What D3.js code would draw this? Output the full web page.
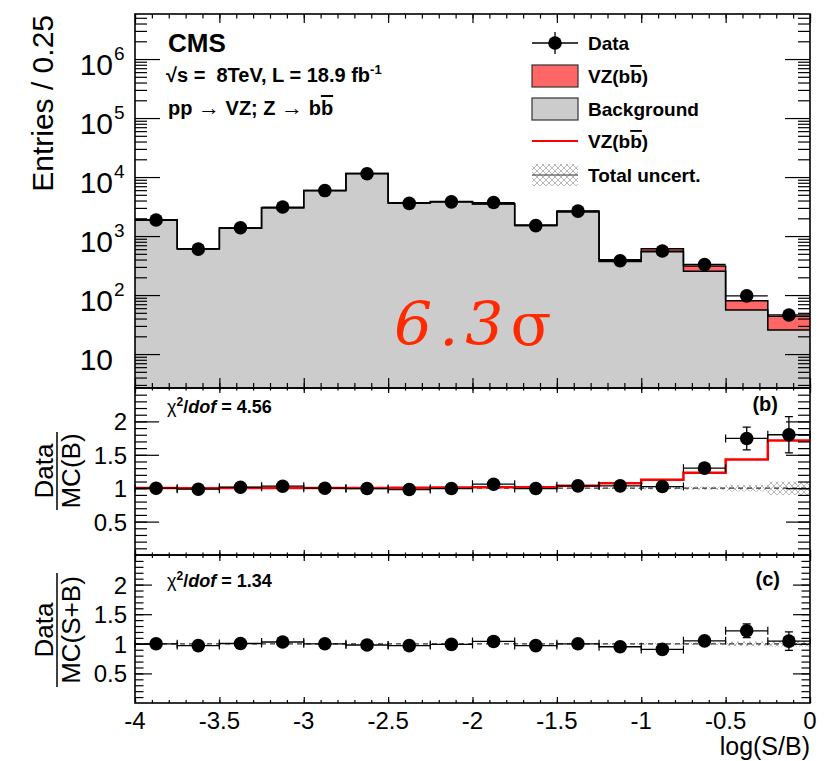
<!DOCTYPE html>
<html lang="en">
<head>
<meta charset="UTF-8">
<title>VZ(bb) log(S/B)</title>
<style>
  body { margin: 0; background: #fff; }
  svg { display: block; font-family: "Liberation Sans", Arial, sans-serif; }
  .tick line { stroke: #000; stroke-width: 1.2; }
  .bold { font-weight: bold; }
  .ob { text-decoration: overline; }
</style>
</head>
<body>
<svg id="chart" width="836" height="761"></svg>
<script src="https://d3js.org/d3.v7.min.js"></script>
<script>
// bin edges of log(S/B)
const binEdges = [-4, -3.75, -3.5, -3.25, -3, -2.75, -2.5, -2.25, -2, -1.75, -1.5, -1.25, -1, -0.75, -0.5, -0.25, 0];

// top panel: entries per bin
const dataCounts = [1870, 600, 1380, 3100, 5900, 11400, 3580, 3800, 3700, 1500, 2650, 382, 557, 330, 97, 46];
const bkgCounts  = [1870, 610, 1360, 3010, 5900, 11450, 3650, 3820, 3490, 1510, 2560, 369, 543, 254, 56, 25.5];
const sigCounts  = [2, 1, 3, 8, 20, 50, 25, 35, 52, 23, 90, 28, 68, 58, 24, 18.2];

// panel (b): Data / MC(B)
const ratioB     = [1.0, 0.985, 1.015, 1.03, 1.0, 0.995, 0.98, 0.995, 1.06, 0.995, 1.035, 1.035, 1.025, 1.30, 1.745, 1.80];
const ratioBErr  = [0.02, 0.03, 0.02, 0.015, 0.012, 0.01, 0.015, 0.015, 0.015, 0.025, 0.02, 0.05, 0.045, 0.07, 0.17, 0.27];
const sigLineB   = [1.002, 1.001, 1.002, 1.003, 1.003, 1.004, 1.007, 1.009, 1.015, 1.015, 1.035, 1.075, 1.125, 1.23, 1.43, 1.715];
const uncB       = [0.006, 0.008, 0.006, 0.005, 0.004, 0.004, 0.005, 0.005, 0.005, 0.007, 0.006, 0.012, 0.02, 0.025, 0.05, 0.1];

// panel (c): Data / MC(S+B)
const ratioSB    = [1.0, 0.97, 1.005, 1.03, 1.0, 0.98, 0.97, 0.99, 1.04, 0.97, 1.0, 0.95, 0.905, 1.05, 1.22, 1.045];
const ratioSBErr = [0.02, 0.03, 0.02, 0.015, 0.012, 0.01, 0.015, 0.015, 0.015, 0.025, 0.02, 0.045, 0.04, 0.05, 0.117, 0.155];
const uncSB      = [0.005, 0.007, 0.005, 0.004, 0.004, 0.004, 0.004, 0.004, 0.004, 0.006, 0.005, 0.01, 0.015, 0.02, 0.04, 0.05];

const xMajor = [-4, -3.5, -3, -2.5, -2, -1.5, -1, -0.5, 0];
const xLabels = ["-4", "-3.5", "-3", "-2.5", "-2", "-1.5", "-1", "-0.5", "0"];
const logMajor = [10, 100, 1e3, 1e4, 1e5, 1e6];
const logExp = ["", "2", "3", "4", "5", "6"];
const ratioMajor = [0.5, 1, 1.5, 2];
const ratioLabels = ["0.5", "1", "1.5", "2"];

const svg = d3.select("#chart");
const L = 135, R = 810;
const topY = [14, 388], midY = [388, 555], botY = [555, 703];

const x = d3.scaleLinear().domain([-4, 0]).range([L, R]);
const yTop = d3.scaleLog().domain([2.66, 5.8e6]).range([topY[1], topY[0]]);
const yB = d3.scaleLinear().domain([0, 2.5]).range([midY[1], midY[0]]);
const yC = d3.scaleLinear().domain([0, 2.5]).range([botY[1], botY[0]]);

const xMinor = d3.range(-40, 1).map(d => d / 10);
const logMinor = [];
[1, 10, 100, 1e3, 1e4, 1e5, 1e6].forEach(p => {
  for (let m = 2; m <= 9; m++) {
    const v = m * p;
    if (v > yTop.domain()[0] && v < yTop.domain()[1]) logMinor.push(v);
  }
});
const ratioMinor = d3.range(1, 25).map(d => d / 10);

const bins = dataCounts.map((d, i) => ({
  lo: binEdges[i], hi: binEdges[i + 1], c: (binEdges[i] + binEdges[i + 1]) / 2,
  data: d, bkg: bkgCounts[i], sig: sigCounts[i],
  rB: ratioB[i], rBe: ratioBErr[i], sB: sigLineB[i], uB: uncB[i],
  rSB: ratioSB[i], rSBe: ratioSBErr[i], uSB: uncSB[i]
}));

// crosshatch pattern
const defs = svg.append("defs");
const pat = defs.append("pattern").attr("id", "hatch").attr("patternUnits", "userSpaceOnUse")
  .attr("width", 6).attr("height", 6);
pat.append("path").attr("d", "M0,0L6,6M6,0L0,6").attr("stroke", "#999").attr("stroke-width", 0.7);

// step helper: [x, value, index]
function stepPoints(vals) {
  return vals.flatMap((v, i) => [[binEdges[i], v, i], [binEdges[i + 1], v, i]]);
}

// ---------- top panel ----------
const gTop = svg.append("g");
const stackTot = bins.map(d => d.bkg + d.sig);
gTop.append("path")
  .attr("d", d3.area().x(d => x(d[0])).y0(topY[1]).y1(d => yTop(d[1]))(stepPoints(bkgCounts)))
  .attr("fill", "#cccccc");
gTop.append("path")
  .attr("d", d3.area().x(d => x(d[0])).y0(d => yTop(bkgCounts[d[2]])).y1(d => yTop(d[1]))(stepPoints(stackTot)))
  .attr("fill", "#ff6666");

const lineTop = d3.line().x(d => x(d[0])).y(d => yTop(d[1]));
gTop.append("path").attr("d", lineTop(stepPoints(bkgCounts)))
  .attr("fill", "none").attr("stroke", "#000").attr("stroke-width", 1.5);
gTop.append("path").attr("d", lineTop(stepPoints(stackTot)))
  .attr("fill", "none").attr("stroke", "#000").attr("stroke-width", 1.5);

// 6.3 sigma
const sigTxt = gTop.append("text").attr("x", 394).attr("y", 345)
  .style("font-family", "'DejaVu Serif', serif").style("font-size", "60px")
  .style("letter-spacing", "7px").attr("fill", "#ff2a00");
sigTxt.append("tspan").style("font-style", "italic").text("6.3");
sigTxt.append("tspan").text("σ");

gTop.selectAll("line.xerr").data(bins).enter().append("line")
  .attr("x1", d => x(d.lo)).attr("x2", d => x(d.hi))
  .attr("y1", d => yTop(d.data)).attr("y2", d => yTop(d.data))
  .attr("stroke", "#000").attr("stroke-width", 1.3);
gTop.selectAll("circle").data(bins).enter().append("circle")
  .attr("cx", d => x(d.c)).attr("cy", d => yTop(d.data)).attr("r", 6.8).attr("fill", "#000");

// ---------- ratio panels ----------
function ratioPanel(yS, key, errKey, uncKey, withLine) {
  const g = svg.append("g");
  g.append("path")
    .attr("d", d3.area().x(d => x(d[0])).y0(d => yS(1 - d[1])).y1(d => yS(1 + d[1]))(stepPoints(bins.map(b => b[uncKey]))))
    .attr("fill", "url(#hatch)");
  g.append("line").attr("x1", L).attr("x2", R).attr("y1", yS(1)).attr("y2", yS(1))
    .attr("stroke", "#333").attr("stroke-width", 1.2).attr("stroke-dasharray", "5,4");
  if (withLine) {
    const ln = d3.line().x(d => x(d[0])).y(d => yS(d[1]));
    g.append("path").attr("d", ln(stepPoints(sigLineB)))
      .attr("fill", "none").attr("stroke", "#ff0000").attr("stroke-width", 2.5);
  }
  const pts = g.selectAll("g.pt").data(bins).enter().append("g");
  pts.append("line").attr("x1", d => x(d.lo)).attr("x2", d => x(d.hi))
    .attr("y1", d => yS(d[key])).attr("y2", d => yS(d[key]))
    .attr("stroke", "#000").attr("stroke-width", 1.3);
  pts.append("path").attr("d", d => {
    const y0 = yS(d[key]);
    return `M${x(d.lo)},${y0 - 4}V${y0 + 4}M${x(d.hi)},${y0 - 4}V${y0 + 4}`;
  }).attr("stroke", "#000").attr("stroke-width", 1.2);
  pts.append("path").attr("d", d => {
    const cx = x(d.c), y1 = yS(d[key] + d[errKey]), y2 = yS(d[key] - d[errKey]);
    return `M${cx},${y1}V${y2}M${cx - 4},${y1}H${cx + 4}M${cx - 4},${y2}H${cx + 4}`;
  }).attr("stroke", "#000").attr("stroke-width", 1.3);
  pts.append("circle").attr("cx", d => x(d.c)).attr("cy", d => yS(d[key])).attr("r", 6.8).attr("fill", "#000");
  return g;
}
ratioPanel(yB, "rB", "rBe", "uB", true);
ratioPanel(yC, "rSB", "rSBe", "uSB", false);

// ---------- axes / ticks ----------
function ticks(axisFn, scale, vals, size, transform) {
  svg.append("g").attr("transform", transform)
    .call(axisFn(scale).tickValues(vals).tickSize(-size).tickFormat(""))
    .call(g => g.select(".domain").remove());
}
function panelTicks(span, yS, yMaj, yMin, yMajLen, yMinLen, xMajTop, xMinTop, xMajBot, xMinBot) {
  ticks(d3.axisLeft, yS, yMaj, yMajLen, `translate(${L},0)`);
  ticks(d3.axisLeft, yS, yMin, yMinLen, `translate(${L},0)`);
  ticks(d3.axisRight, yS, yMaj, yMajLen, `translate(${R},0)`);
  ticks(d3.axisRight, yS, yMin, yMinLen, `translate(${R},0)`);
  ticks(d3.axisTop, x, xMajor, xMajTop, `translate(0,${span[0]})`);
  ticks(d3.axisTop, x, xMinor, xMinTop, `translate(0,${span[0]})`);
  ticks(d3.axisBottom, x, xMajor, xMajBot, `translate(0,${span[1]})`);
  ticks(d3.axisBottom, x, xMinor, xMinBot, `translate(0,${span[1]})`);
  svg.append("rect").attr("x", L).attr("y", span[0]).attr("width", R - L).attr("height", span[1] - span[0])
    .attr("fill", "none").attr("stroke", "#000").attr("stroke-width", 1.6);
}
panelTicks(topY, yTop, logMajor, logMinor, 25, 12, 9, 4.5, 10, 5);
panelTicks(midY, yB, ratioMajor, ratioMinor, 24, 12, 5, 2.5, 5, 2.5);
panelTicks(botY, yC, ratioMajor, ratioMinor, 17, 8.5, 6, 3, 6, 3);

// log y labels
const logLab = svg.append("g").style("font-size", "30px");
logMajor.forEach((v, i) => {
  logLab.append("text").attr("x", 113).attr("y", yTop(v) + 16).attr("text-anchor", "end").text("10");
  if (logExp[i]) logLab.append("text").attr("x", 114).attr("y", yTop(v) + 1)
    .style("font-size", "19px").text(logExp[i]);
});

// ratio y labels
[yB, yC].forEach(yS => {
  svg.append("g").style("font-size", "24px").selectAll("text").data(ratioMajor).enter().append("text")
    .attr("x", 127).attr("y", d => yS(d) + 9).attr("text-anchor", "end")
    .text((d, i) => ratioLabels[i]);
});

// x labels
svg.append("g").style("font-size", "24px").selectAll("text").data(xMajor).enter().append("text")
  .attr("x", d => x(d)).attr("y", 729).attr("text-anchor", "middle").text((d, i) => xLabels[i]);
svg.append("text").attr("x", R).attr("y", 755).attr("text-anchor", "end")
  .style("font-size", "25px").text("log(S/B)");

// y titles
svg.append("text").attr("transform", "translate(53,15) rotate(-90)").attr("text-anchor", "end")
  .style("font-size", "30px").text("Entries / 0.25");

function fracTitle(cy, den, barLen) {
  const g = svg.append("g").style("font-size", "26px");
  g.append("text").attr("transform", `translate(53,${cy}) rotate(-90)`).attr("text-anchor", "middle").text("Data");
  g.append("text").attr("transform", `translate(80,${cy}) rotate(-90)`).attr("text-anchor", "middle").text(den);
  g.append("line").attr("x1", 57).attr("x2", 57).attr("y1", cy - barLen / 2).attr("y2", cy + barLen / 2)
    .attr("stroke", "#000").attr("stroke-width", 1.5);
}
fracTitle(471, "MC(B)", 78);
fracTitle(630, "MC(S+B)", 114);

// CMS labels
const info = svg.append("g").attr("class", "bold");
info.append("text").attr("x", 168).attr("y", 52).style("font-size", "26px").text("CMS");
const t1 = info.append("text").attr("x", 166).attr("y", 82).style("font-size", "20px");
t1.append("tspan").text("√s =\u00a0 8TeV, L = 18.9 fb");
t1.append("tspan").attr("dy", -8).style("font-size", "13px").text("-1");
const t2 = info.append("text").attr("x", 168).attr("y", 115).style("font-size", "20px");
t2.append("tspan").text("pp ");
t2.append("tspan").style("font-weight", "normal").style("font-size", "22px").text("→");
t2.append("tspan").text(" VZ; Z ");
t2.append("tspan").style("font-weight", "normal").style("font-size", "22px").text("→");
t2.append("tspan").text(" b");
t2.append("tspan").attr("class", "ob").text("b");

function chi2(yBase, val) {
  const t = svg.append("text").attr("class", "bold").attr("x", 167).attr("y", yBase).style("font-size", "18px");
  t.append("tspan").style("font-weight", "normal").text("χ");
  t.append("tspan").attr("dy", -7).style("font-size", "12px").text("2");
  t.append("tspan").attr("dy", 7).text("/");
  t.append("tspan").style("font-style", "italic").text("dof");
  t.append("tspan").text(" = " + val);
}
chi2(413, "4.56");
chi2(587, "1.34");
svg.append("text").attr("class", "bold").attr("x", 778).attr("y", 411).attr("text-anchor", "end")
  .style("font-size", "20px").text("(b)");
svg.append("text").attr("class", "bold").attr("x", 780).attr("y", 586).attr("text-anchor", "end")
  .style("font-size", "20px").text("(c)");

// legend
const leg = svg.append("g");
const lx0 = 532, lx1 = 578, ltx = 588;
const rows = [43, 76, 109, 141, 175];
leg.append("line").attr("x1", lx0).attr("x2", lx1).attr("y1", rows[0]).attr("y2", rows[0]).attr("stroke", "#000").attr("stroke-width", 1.3);
leg.append("line").attr("x1", 555).attr("x2", 555).attr("y1", rows[0] - 11).attr("y2", rows[0] + 11).attr("stroke", "#000").attr("stroke-width", 1.3);
leg.append("circle").attr("cx", 555).attr("cy", rows[0]).attr("r", 6.8).attr("fill", "#000");
leg.append("rect").attr("x", lx0).attr("y", rows[1] - 11).attr("width", lx1 - lx0).attr("height", 22)
  .attr("fill", "#ff6666").attr("stroke", "#333").attr("stroke-width", 1.2);
leg.append("rect").attr("x", lx0).attr("y", rows[2] - 11).attr("width", lx1 - lx0).attr("height", 22)
  .attr("fill", "#cccccc").attr("stroke", "#333").attr("stroke-width", 1.2);
leg.append("line").attr("x1", lx0).attr("x2", lx1).attr("y1", rows[3]).attr("y2", rows[3]).attr("stroke", "#ff0000").attr("stroke-width", 2);
leg.append("rect").attr("x", lx0).attr("y", rows[4] - 11).attr("width", lx1 - lx0).attr("height", 22).attr("fill", "url(#hatch)");
leg.append("line").attr("x1", lx0).attr("x2", lx1).attr("y1", rows[4]).attr("y2", rows[4]).attr("stroke", "#333").attr("stroke-width", 1);

const legTexts = [["Data"], ["VZ(b", "b", ")"], ["Background"], ["VZ(b", "b", ")"], ["Total uncert."]];
legTexts.forEach((parts, i) => {
  const t = leg.append("text").attr("class", "bold").attr("x", ltx).attr("y", rows[i] + 7).style("font-size", "19px");
  parts.forEach((p, j) => t.append("tspan").attr("class", j === 1 ? "ob" : null).text(p));
});
</script>
</body>
</html>
